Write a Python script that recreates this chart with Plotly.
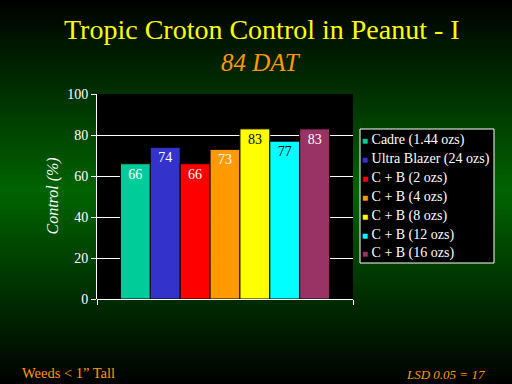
import base64
import plotly.graph_objects as go

treatments = ["Cadre (1.44 ozs)", "Ultra Blazer (24 ozs)", "C + B (2 ozs)", "C + B (4 ozs)",
              "C + B (8 ozs)", "C + B (12 ozs)", "C + B (16 ozs)"]
control = [66, 74, 66, 73, 83, 77, 83]
colors = ["#00cc99", "#3333cc", "#ff0000", "#ff9900", "#ffff00", "#00ffff", "#993366"]
label_colors = ["white", "white", "white", "white", "black", "black", "white"]
y_ticks = [0, 20, 40, 60, 80, 100]

W, H = 512, 384
L, R, T, B = 97, 159, 94, 85
pw, ph = W - L - R, H - T - B

def px(x):
    return (x - L) / pw

def py(y):
    return (H - B - y) / ph

svg = (
    '<svg xmlns="http://www.w3.org/2000/svg" width="512" height="384" preserveAspectRatio="none">'
    '<defs><linearGradient id="g" x1="0" y1="0" x2="0" y2="1">'
    '<stop offset="0" stop-color="#000000"/>'
    '<stop offset="0.5" stop-color="#006400"/>'
    '<stop offset="1" stop-color="#000000"/>'
    '</linearGradient></defs><rect width="512" height="384" fill="url(#g)"/></svg>'
)
src = "data:image/svg+xml;base64," + base64.b64encode(svg.encode()).decode()

SERIF = "Liberation Serif, Times New Roman, serif"
fig = go.Figure()
for name, val, col, lc in zip(treatments, control, colors, label_colors):
    fig.add_trace(go.Bar(
        x=[0], y=[val], name=name,
        marker=dict(color=col, line=dict(color="black", width=1)),
        text=[str(val)], textposition="inside", insidetextanchor="end",
        textfont=dict(family=SERIF, size=14, color=lc),
        cliponaxis=False, hoverinfo="skip", showlegend=False,
    ))

annotations = [
    dict(text="Tropic Croton Control in Peanut - I", xref="paper", yref="paper",
         x=px(262), y=py(30), xanchor="center", yanchor="middle",
         showarrow=False, font=dict(family=SERIF, size=28, color="#ffff00")),
    dict(text="<i>84 DAT</i>", xref="paper", yref="paper",
         x=px(261), y=py(62), xanchor="center", yanchor="middle",
         showarrow=False, font=dict(family=SERIF, size=25, color="#ff9900")),
    dict(text="Weeds < 1\u201d Tall", xref="paper", yref="paper",
         x=px(20), y=py(373), xanchor="left", yanchor="middle",
         showarrow=False, font=dict(family=SERIF, size=14.5, color="#ff9900")),
    dict(text="<i>LSD 0.05 = 17</i>", xref="paper", yref="paper",
         x=px(486), y=py(383), xanchor="right", yanchor="bottom", borderpad=0,
         showarrow=False, font=dict(family=SERIF, size=13, color="#ff9900")),
    dict(text="<i>Control (%)</i>", xref="paper", yref="paper",
         x=px(52), y=0.5, xanchor="center", yanchor="middle", textangle=-90,
         showarrow=False, font=dict(family=SERIF, size=16, color="white")),
]

# custom legend (small squares close to text, as in the reference)
for i, (name, col) in enumerate(zip(treatments, colors)):
    annotations.append(dict(
        text=f'<span style="font-size:10px;color:{col}">\u25a0</span> {name}',
        xref="paper", yref="paper", x=px(360), y=py(140 + i * 18.9),
        xanchor="left", yanchor="middle", showarrow=False,
        font=dict(family=SERIF, size=14, color="white"),
    ))

fig.update_layout(
    width=W, height=H,
    margin=dict(l=L, r=R, t=T, b=B, autoexpand=False),
    paper_bgcolor="black", plot_bgcolor="black",
    barmode="group", bargap=0.183, bargroupgap=0,
    font=dict(family=SERIF, color="white", size=12),
    showlegend=False,
    xaxis=dict(range=[-0.5, 0.5], tickvals=[-0.5, 0.5], ticktext=["", ""],
               ticks="outside", ticklen=5, tickcolor="white", showgrid=False,
               showline=False, zeroline=False, fixedrange=True),
    yaxis=dict(range=[0, 100], tickvals=y_ticks, ticks="outside", ticklen=5,
               tickcolor="white", gridcolor="white", gridwidth=1,
               showline=True, linecolor="white", linewidth=1,
               zeroline=True, zerolinecolor="white", zerolinewidth=1,
               tickfont=dict(family=SERIF, size=14, color="white")),
    images=[dict(source=src, xref="paper", yref="paper",
                 x=-L / pw, y=1 + T / ph, sizex=W / pw, sizey=H / ph,
                 xanchor="left", yanchor="top", sizing="stretch", layer="below")],
    shapes=[
        dict(type="rect", xref="paper", yref="paper", x0=0, x1=1, y0=0, y1=1,
             fillcolor="black", line=dict(width=0), layer="below"),
        dict(type="rect", xref="paper", yref="paper", x0=px(360), x1=px(494),
             y0=py(263), y1=py(129), fillcolor="black",
             line=dict(color="white", width=1), layer="below"),
    ],
    annotations=annotations,
)

fig.write_html("out.html")
